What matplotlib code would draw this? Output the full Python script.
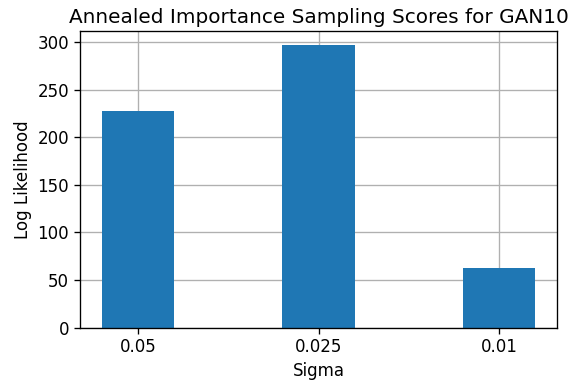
import matplotlib
matplotlib.use("Agg")
import matplotlib.pyplot as plt

# ====== data ======
sigmas = ["0.05", "0.025", "0.01"]
log_likelihood = [227.6, 297.0, 62.7]

# ====== style (reference looks ~1.2x default scale) ======
S = 1.2
plt.rcParams.update({
    "font.size": 10 * S,
    "axes.titlesize": 12 * S,
    "axes.labelsize": 10 * S,
    "xtick.labelsize": 10 * S,
    "ytick.labelsize": 10 * S,
    "axes.linewidth": 0.8 * S,
    "grid.linewidth": 0.8 * S,
    "xtick.major.size": 3.5 * S,
    "ytick.major.size": 3.5 * S,
    "xtick.major.width": 0.8 * S,
    "ytick.major.width": 0.8 * S,
})

# ====== plot ======
fig = plt.figure(figsize=(5.75, 3.84), dpi=100)
ax = fig.add_axes([0.139, 0.147, 0.830, 0.772])
ax.bar(sigmas, log_likelihood, width=0.4, color="#1f77b4")
ax.set_axisbelow(True)
ax.grid(True)
ax.set_xlabel("Sigma")
ax.set_ylabel("Log Likelihood")
ax.set_title("Annealed Importance Sampling Scores for GAN10")
fig.savefig("out.png", dpi=100)
